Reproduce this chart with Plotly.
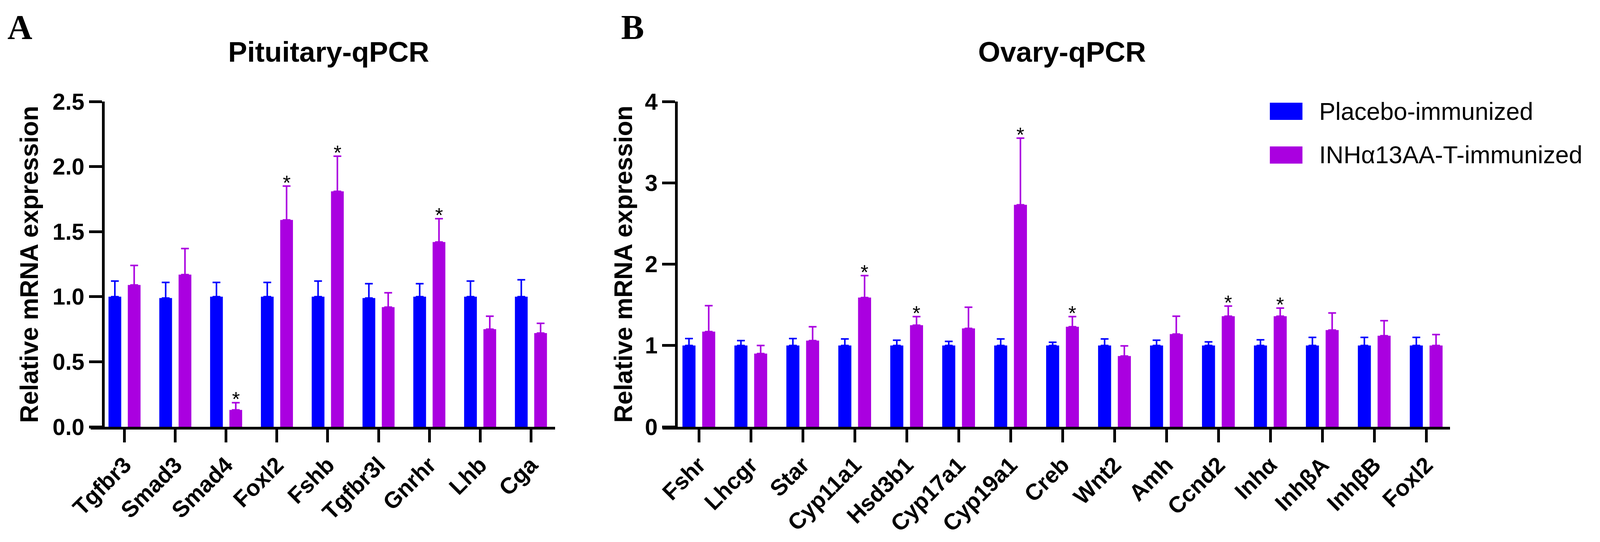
import plotly.graph_objects as go

# ---------------- data ----------------
genes_A = ["Tgfbr3", "Smad3", "Smad4", "Foxl2", "Fshb", "Tgfbr3l", "Gnrhr", "Lhb", "Cga"]
placebo_A = [1.00, 0.99, 1.00, 1.00, 1.00, 0.99, 1.00, 1.00, 1.00]
placebo_A_err = [0.12, 0.12, 0.11, 0.11, 0.12, 0.11, 0.10, 0.12, 0.13]
inh_A = [1.09, 1.17, 0.13, 1.59, 1.81, 0.92, 1.42, 0.75, 0.72]
inh_A_err = [0.15, 0.20, 0.055, 0.26, 0.27, 0.11, 0.18, 0.10, 0.075]
sig_A = [False, False, True, True, True, False, True, False, False]

genes_B = ["Fshr", "Lhcgr", "Star", "Cyp11a1", "Hsd3b1", "Cyp17a1", "Cyp19a1", "Creb",
           "Wnt2", "Amh", "Ccnd2", "Inhα", "InhβA", "InhβB", "Foxl2"]
placebo_B = [1.00] * 15
placebo_B_err = [0.085, 0.06, 0.085, 0.08, 0.065, 0.05, 0.08, 0.04, 0.08, 0.065, 0.045, 0.07, 0.10, 0.10, 0.10]
inh_B = [1.17, 0.90, 1.06, 1.59, 1.25, 1.21, 2.73, 1.23, 0.87, 1.14, 1.36, 1.36, 1.19, 1.12, 1.00]
inh_B_err = [0.32, 0.10, 0.17, 0.27, 0.105, 0.26, 0.82, 0.125, 0.125, 0.22, 0.125, 0.10, 0.21, 0.185, 0.135]
sig_B = [False, False, False, True, True, False, True, True, False, False, True, True, False, False, False]

name_placebo = "Placebo-immunized"
name_inh = "INHα13AA-T-immunized"
title_A = "Pituitary-qPCR"
title_B = "Ovary-qPCR"
ytitle = "Relative mRNA expression"

# ---------------- geometry ----------------
# The page is shown in a 4096-px-wide viewport with an 8 px body margin;
# place everything in reference-picture pixels and map them into the figure.
REF_W, REF_H = 4318, 1388
VIEW_W = 4096
K = VIEW_W / REF_W
OFF = 8
FW, FH = VIEW_W - OFF, REF_H - OFF


def px(X):
    return (X * K - OFF) / FW


def py(Y):
    return 1 - (Y - OFF) / FH


FS = 0.96  # font scale to compensate horizontal stretch

BLUE = "#0000FF"
PURPLE = "#AA00E0"
SANS = "Liberation Sans, Arial, sans-serif"
SERIF = "Liberation Serif, Times New Roman, serif"
BARGAP = 0.24
BARGROUPGAP = 0.34
off = (1 - BARGAP) / 4  # centre offset of each bar inside a group

fig = go.Figure()


def add_bars(x, ph, pe, ih, ie, xa, ya):
    n = len(x)
    fig.add_trace(go.Bar(
        x=x, y=ph, name=name_placebo, marker=dict(color=BLUE, line=dict(width=0)),
        error_y=dict(type="data", array=pe, arrayminus=[0] * n, symmetric=False,
                     color=BLUE, thickness=4, width=10),
        xaxis=xa, yaxis=ya, showlegend=False))
    fig.add_trace(go.Bar(
        x=x, y=ih, name=name_inh, marker=dict(color=PURPLE, line=dict(width=0)),
        error_y=dict(type="data", array=ie, arrayminus=[0] * n, symmetric=False,
                     color=PURPLE, thickness=4, width=10),
        xaxis=xa, yaxis=ya, showlegend=False))


add_bars(genes_A, placebo_A, placebo_A_err, inh_A, inh_A_err, "x", "y")
add_bars(genes_B, placebo_B, placebo_B_err, inh_B, inh_B_err, "x2", "y2")

annotations = []


def add_stars(vals, errs, sig, xref, yref):
    for i, (v, e, s) in enumerate(zip(vals, errs, sig)):
        if s:
            annotations.append(dict(
                x=i + off, y=v + e, xref=xref, yref=yref, text="*", showarrow=False,
                xanchor="center", yanchor="bottom", yshift=-22,
                font=dict(family=SANS, size=54 * FS, color="black")))


add_stars(inh_A, inh_A_err, sig_A, "x", "y")
add_stars(inh_B, inh_B_err, sig_B, "x2", "y2")

# panel letters
for letter, xl in (("A", 18), ("B", 1674)):
    annotations.append(dict(x=px(xl), y=py(69), xref="paper", yref="paper",
                            text="<b>" + letter + "</b>", showarrow=False,
                            xanchor="left", yanchor="middle",
                            font=dict(family=SERIF, size=92 * FS, color="black")))
# panel titles
for t, xc in ((title_A, 887), (title_B, 2866)):
    annotations.append(dict(x=px(xc), y=py(132), xref="paper", yref="paper", text=t,
                            showarrow=False, xanchor="center", yanchor="middle",
                            font=dict(family=SANS, size=76 * FS, color="black", weight="bold")))
# y-axis titles
for xc in (79, 1682):
    annotations.append(dict(x=px(xc), y=py(677), xref="paper", yref="paper", text=ytitle,
                            showarrow=False, xanchor="center", yanchor="middle", textangle=-90,
                            font=dict(family=SANS, size=64, color="black", weight="bold")))
# legend (drawn by hand to get the large swatches)
shapes = []
for (nm, col, yc) in ((name_placebo, BLUE, 285), (name_inh, PURPLE, 397)):
    shapes.append(dict(type="rect", xref="paper", yref="paper",
                       x0=px(3427), x1=px(3515), y0=py(yc + 22), y1=py(yc - 22),
                       fillcolor=col, line=dict(width=0)))
    annotations.append(dict(x=px(3558), y=py(yc), xref="paper", yref="paper", text=nm,
                            showarrow=False, xanchor="left", yanchor="middle",
                            font=dict(family=SANS, size=65 * FS, color="black")))

axis_common = dict(showline=True, linecolor="black", linewidth=7, ticks="outside",
                   ticklen=33, tickwidth=7, tickcolor="black", showgrid=False, zeroline=False,
                   automargin=False)
tickfont = dict(family=SANS, size=61 * FS, color="black", weight="bold")

ydom = [py(1093), py(260)]

fig.update_layout(
    width=FW, height=FH, margin=dict(l=0, r=0, t=0, b=0, pad=0, autoexpand=False),
    paper_bgcolor="white", plot_bgcolor="white",
    barmode="group", bargap=BARGAP, bargroupgap=BARGROUPGAP,
    showlegend=False,
    xaxis=dict(domain=[px(245), px(1498)], range=[-0.664, 8.475], anchor="y",
               tickangle=-45, tickfont=tickfont, **axis_common),
    yaxis=dict(domain=ydom, range=[0, 2.5], dtick=0.5, tickformat=".1f", anchor="free",
               position=px(278), tickfont=tickfont, **axis_common),
    xaxis2=dict(domain=[px(1788), px(3913)], range=[-0.699, 14.457], anchor="y2",
                tickangle=-45, tickfont=tickfont, **axis_common),
    yaxis2=dict(domain=ydom, range=[0, 4], dtick=1, anchor="free",
                position=px(1825), tickfont=tickfont, **axis_common),
    annotations=annotations, shapes=shapes,
)

fig.write_html("out.html")
